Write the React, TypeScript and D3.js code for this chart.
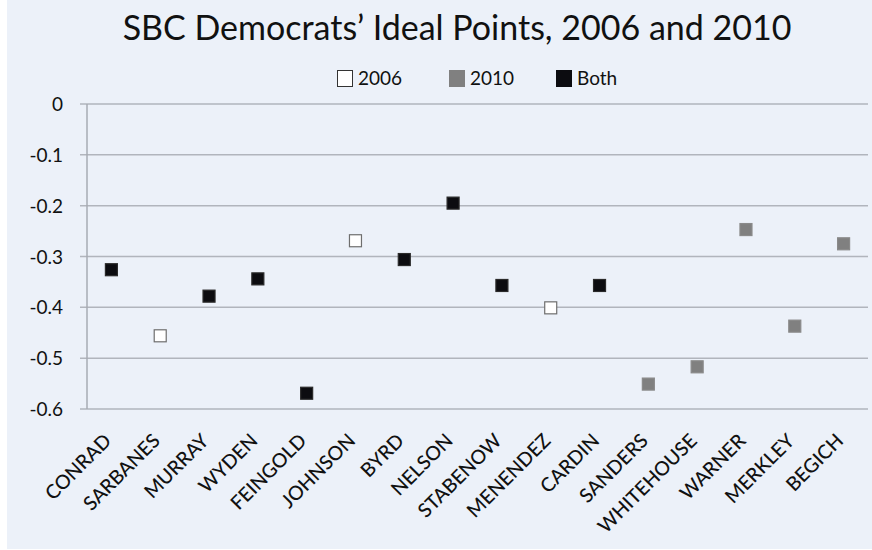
import React from "react";
import * as d3 from "d3";

const senators = ["CONRAD","SARBANES","MURRAY","WYDEN","FEINGOLD","JOHNSON","BYRD","NELSON","STABENOW","MENENDEZ","CARDIN","SANDERS","WHITEHOUSE","WARNER","MERKLEY","BEGICH"];
const idealPoints = [-0.326,-0.456,-0.378,-0.344,-0.569,-0.269,-0.306,-0.195,-0.357,-0.401,-0.357,-0.551,-0.517,-0.247,-0.437,-0.275];
const groups = ["Both","2006","Both","Both","Both","2006","Both","Both","Both","2006","Both","2010","2010","2010","2010","2010"];
const legendItems = ["2006","2010","Both"];
const yTicks = [0,-0.1,-0.2,-0.3,-0.4,-0.5,-0.6];
const title = "SBC Democrats\u2019 Ideal Points, 2006 and 2010";

const W = 872, H = 550;
const left = 87, right = 868, top = 104, bottom = 409;
const font = "Lato, 'Open Sans', sans-serif";

const styleFor = (g: string) => {
  if (g === "2006") return { fill: "#ffffff", stroke: "#6e6e6e" };
  if (g === "2010") return { fill: "#808080", stroke: "#8a8a8a" };
  return { fill: "#0c0c10", stroke: "#2a2a2a" };
};

const fmt = (t: number) => (t === 0 ? "0" : d3.format(".1f")(t).replace("\u2212", "-"));

export default function App() {
  const x = d3.scaleBand<string>().domain(senators).range([left, right]);
  const y = d3.scaleLinear().domain([0, -0.6]).range([top, bottom]);
  const ms = 12;
  const legendX = [337, 449, 556];
  return (
    <svg width={W} height={H} style={{ position: "absolute", left: 0, top: 0 }}>
      <rect x={0} y={0} width={W} height={H} fill="#ffffff" />
      <rect x={7} y={0} width={W - 7} height={549} fill="#ecf1f9" />
      <text x={457} y={40} textAnchor="middle" fontFamily={font} fontSize={34} fill="#111">{title}</text>
      {legendItems.map((g, i) => {
        const s = styleFor(g);
        return (
          <g key={g}>
            <rect x={legendX[i] + 0.5} y={70.5} width={15} height={16} fill={s.fill} stroke={g === "2006" ? "#333" : s.fill} strokeWidth={1} />
            <text x={legendX[i] + 21} y={85} fontFamily={font} fontSize={19} fill="#111">{g}</text>
          </g>
        );
      })}
      {yTicks.map((t) => (
        <g key={t}>
          <line x1={80} x2={right} y1={y(t)} y2={y(t)} stroke="#b1b5bd" strokeWidth={1.5} />
          <text x={63} y={y(t) + 7} textAnchor="end" fontFamily={font} fontSize={19} fill="#111">{fmt(t)}</text>
        </g>
      ))}
      <line x1={left} x2={left} y1={top} y2={bottom} stroke="#a7abb3" strokeWidth={1.5} />
      {senators.map((s, i) => {
        const cx = (x(s) as number) + x.bandwidth() / 2;
        const st = styleFor(groups[i]);
        return (
          <g key={s}>
            <rect x={cx - ms / 2} y={y(idealPoints[i]) - ms / 2} width={ms} height={ms} fill={st.fill} stroke={st.stroke} strokeWidth={1.2} />
            <text transform={`translate(${cx + 1},${442}) rotate(-45)`} textAnchor="end" fontFamily={font} fontSize={19.5} fontWeight={500} fill="#111">{s}</text>
          </g>
        );
      })}
    </svg>
  );
}
